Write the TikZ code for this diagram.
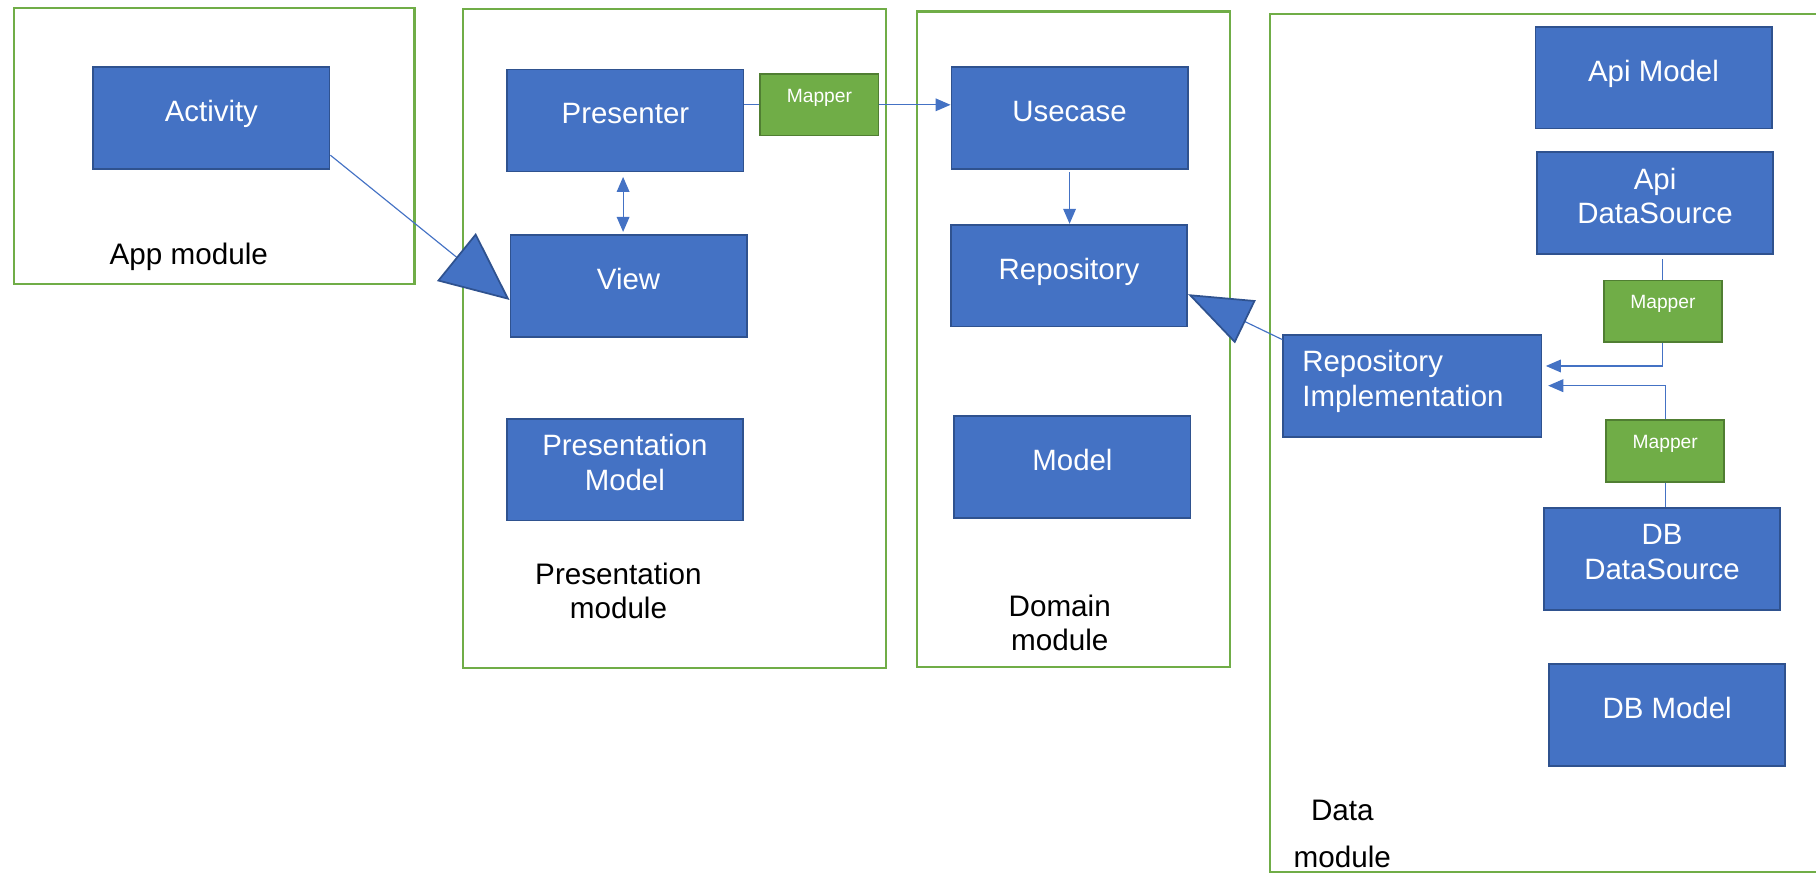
\documentclass[tikz,border=0pt]{standalone}
\usepackage{fontspec}
\setmainfont{Liberation Sans}
\usepackage{tikz}
\usetikzlibrary{arrows.meta}

\definecolor{boxblue}{HTML}{4472C4}
\definecolor{boxedge}{HTML}{2F528F}
\definecolor{mapgreen}{HTML}{70AD47}
\definecolor{mapedge}{HTML}{507E32}

% two-line box text, lifted a little as in the slide
\newcommand\liftlines[2][c]{\raisebox{1.5pt}[\height][\depth]{\begin{tabular}{@{}#1@{}}#2\end{tabular}}}

\begin{document}
\begin{tikzpicture}[x=0.5pt, y=-0.5pt,
    >={Triangle[length=6.5pt, width=5.5pt]},
    part/.style={draw=boxedge, fill=boxblue, text=white, line width=0.75pt,
        minimum width=102pt, minimum height=44pt, inner sep=0pt,
        font=\fontsize{12.7}{15}\selectfont},
    partone/.style={part, text depth=6pt},
    mapper/.style={draw=mapedge, fill=mapgreen, text=white, line width=0.75pt,
        minimum width=51pt, minimum height=26.5pt, inner sep=0pt, text depth=8pt,
        font=\fontsize{8.3}{10}\selectfont},
    module/.style={draw=mapgreen, line width=1pt},
    modlabel/.style={align=center, font=\fontsize{12.8}{14.5}\selectfont},
    link/.style={draw=boxblue, line width=0.5pt}]

    % Page frame
    \useasboundingbox (0,0) rectangle (1568,755);

    % Draw module frames (green)
    \draw[module] (12,7) rectangle (358,245);
    \draw[module] (400,8) rectangle (765,577);
    \draw[module] (792,10) rectangle (1062,576);
    \draw[module] (1600,12) -- (1096.5,12) -- (1096.5,753) -- (1600,753);

    % Module labels
    \node[modlabel] (applbl) at (163,222) {App module};
    \node[modlabel] (preslbl) at (534,510) {Presentation\\module};
    \node[modlabel] (domlbl) at (915,538) {Domain\\module};
    \node[modlabel, font=\fontsize{12.8}{20.5}\selectfont] (datalbl) at (1159,720) {Data\\module};

    % App module
    \node[partone] (activity) at (182.5,102) {Activity};

    % Presentation module
    \node[partone] (presenter) at (540,104) {Presenter};
    \node[partone] (view) at (542.7,247) {View};
    \node[part] (presmodel) at (539.5,405.5) {\liftlines{Presentation\\Model}};
    \node[mapper] (mapperA) at (707.5,90.5) {Mapper};

    % Domain module
    \node[partone] (usecase) at (923.5,102) {Usecase};
    \node[partone] (repository) at (923,238) {Repository};
    \node[partone] (model) at (926,403) {Model};

    % Data module
    \node[partone] (apimodel) at (1427.7,67) {Api Model};
    \node[part] (apids) at (1429,175.3) {\liftlines{Api\\DataSource}};
    \node[mapper] (mapperB) at (1435.8,268.8) {Mapper};
    \node[part, minimum width=111.5pt, text width=95pt] (repoimpl) at (1219.5,333) {\liftlines[l]{Repository\\Implementation}};
    \node[mapper] (mapperC) at (1437.8,389.4) {Mapper};
    \node[part] (dbds) at (1435,482.5) {\liftlines{DB\\DataSource}};
    \node[partone] (dbmodel) at (1439.5,617.5) {DB Model};

    % Connectors
    \draw[link, -{Triangle[length=29.5pt, width=26.5pt, fill=boxblue, color=boxedge, line width=0.75pt]}]
        ([yshift=-16pt]activity.east) -- ([yshift=-6pt]view.west);
    \draw[link, <->, shorten <=2pt, shorten >=1pt] ([xshift=-1pt]presenter.south) -- ([xshift=-1pt]presenter.south |- view.north);
    \draw[link] (presenter.east |- mapperA.west) -- (mapperA.west);
    \draw[link, ->] (mapperA.east) -- (mapperA.east -| usecase.west);
    \draw[link, ->, shorten <=1pt] (usecase.south) -- (usecase.south |- repository.north);
    \draw[link, -{Triangle[length=27.5pt, width=20.5pt, fill=boxblue, color=boxedge, line width=0.75pt]}]
        ([yshift=-2.5pt]repoimpl.north west) -- ([yshift=-8pt]repository.east);
    \draw[link, shorten >=2pt] (mapperB.north) -- (mapperB.north |- apids.south);
    \draw[link, ->, shorten >=1.5pt] (mapperB.south) |- ([yshift=8.5pt]repoimpl.east);
    \draw[link, ->, shorten >=2.5pt] (mapperC.north) |- (repoimpl.east);
    \draw[link] (mapperC.south) -- (mapperC.south |- dbds.north);
\end{tikzpicture}
\end{document}
